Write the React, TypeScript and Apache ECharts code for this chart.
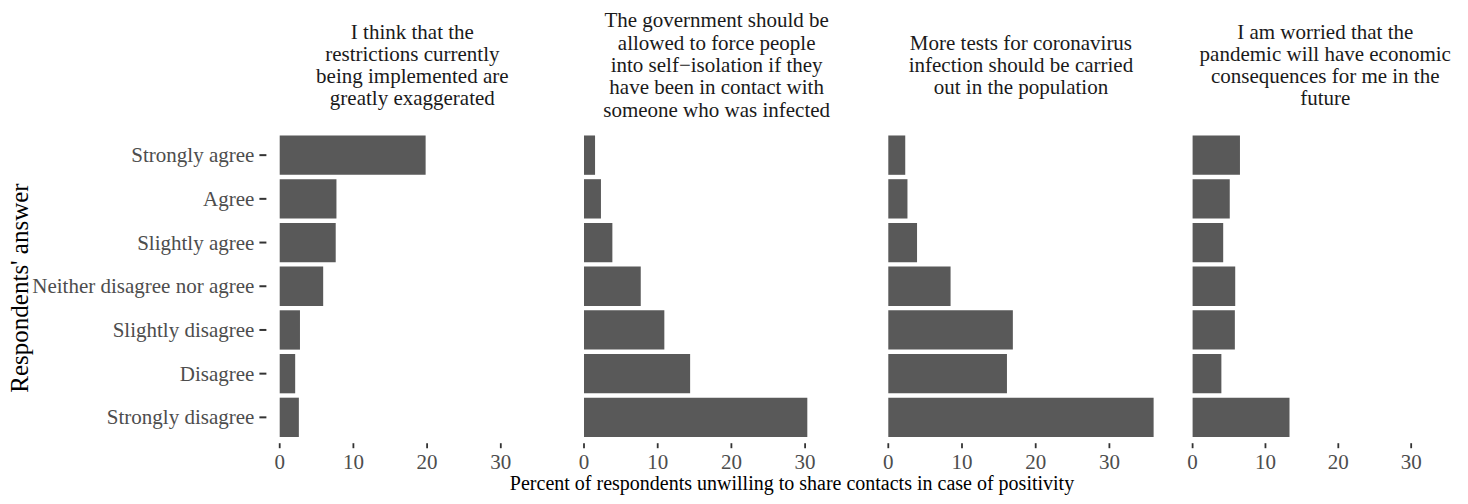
import React, { useEffect, useRef } from "react";
import * as echarts from "echarts";

const categories = [
  "Strongly agree",
  "Agree",
  "Slightly agree",
  "Neither disagree nor agree",
  "Slightly disagree",
  "Disagree",
  "Strongly disagree",
];

const panelTitles = [
  "I think that the\nrestrictions currently\nbeing implemented are\ngreatly exaggerated",
  "The government should be\nallowed to force people\ninto self\u2212isolation if they\nhave been in contact with\nsomeone who was infected",
  "More tests for coronavirus\ninfection should be carried\nout in the population",
  "I am worried that the\npandemic will have economic\nconsequences for me in the\nfuture",
];

const restrictionsExaggerated = [19.8, 7.7, 7.6, 5.9, 2.75, 2.1, 2.6];
const forceSelfIsolation = [1.5, 2.3, 3.85, 7.7, 10.9, 14.4, 30.3];
const moreTests = [2.3, 2.6, 3.9, 8.45, 16.9, 16.1, 36.0];
const economicWorry = [6.5, 5.1, 4.2, 5.85, 5.8, 3.95, 13.3];

const panelValues = [restrictionsExaggerated, forceSelfIsolation, moreTests, economicWorry];
const xTicks = [0, 10, 20, 30];
const xTitle = "Percent of respondents unwilling to share contacts in case of positivity";
const yTitle = "Respondents' answer";

const FONT = '"Liberation Serif", "DejaVu Serif", serif';
const TICK = "#333333";
const LABEL = "#4d4d4d";

export default function App() {
  const ref = useRef<HTMLDivElement>(null);
  useEffect(() => {
    document.body.style.margin = "0";
    if (!ref.current) return;
    const chart = echarts.init(ref.current, null, { renderer: "svg" });

    const zero0 = 279.7;
    const spacing = 304.3;
    const xMax = 37.8;
    const pxPerUnit = 7.37;
    const gridW = xMax * pxPerUnit;
    const gridTop = 133.3;
    const gridH = 305.9;
    const yOffset = 13.3;

    const grids: any[] = [];
    const xAxes: any[] = [];
    const yAxes: any[] = [];
    const series: any[] = [];
    const graphics: any[] = [];

    panelValues.forEach((vals, i) => {
      const left = zero0 + i * spacing;
      grids.push({ left, top: gridTop, width: gridW, height: gridH });
      xAxes.push({
        gridIndex: i,
        type: "value",
        position: "bottom",
        min: 0,
        max: xMax,
        interval: 10,
        offset: 0,
        axisLine: { show: false },
        splitLine: { show: false },
        axisTick: { show: false },
        axisLabel: {
          customValues: xTicks,
          margin: 12,
          color: LABEL,
          fontSize: 21,
          fontFamily: FONT,
          lineHeight: 21,
        },
      });
      yAxes.push({
        gridIndex: i,
        type: "category",
        data: categories,
        inverse: true,
        show: i === 0,
        offset: yOffset,
        axisLine: { show: false },
        splitLine: { show: false },
        axisTick: { show: false },
        axisLabel: {
          interval: 0,
          margin: 0,
          formatter: (v: string) => `{l|${v}}{t|}`,
          rich: {
            l: {
              color: LABEL,
              fontSize: 21,
              fontFamily: FONT,
              padding: [0, 5, 0, 0],
            },
            t: { width: 7, height: 2, backgroundColor: TICK },
          },
        },
      });
      series.push({
        type: "bar",
        xAxisIndex: i,
        yAxisIndex: i,
        data: vals,
        barWidth: "90%",
        itemStyle: { color: "#595959" },
      });
      // x-axis tick marks, positioned by the axis scale below the panel
      series.push({
        type: "custom",
        xAxisIndex: i,
        yAxisIndex: i,
        silent: true,
        clip: false,
        data: xTicks.map((v) => [v, 0]),
        encode: { x: 0, y: 1 },
        renderItem: (params: any, api: any) => {
          const x = api.coord([api.value(0), 0])[0];
          const cs = params.coordSys;
          const y0 = cs.y + cs.height + 4;
          return {
            type: "line",
            shape: { x1: x, y1: y0, x2: x, y2: y0 + 5 },
            style: { stroke: TICK, lineWidth: 1.8 },
          };
        },
      });
      graphics.push({
        type: "text",
        x: left - yOffset + (gridW + yOffset) / 2,
        y: 65,
        style: {
          text: panelTitles[i],
          font: `21px ${FONT}`,
          textAlign: "center",
          textVerticalAlign: "middle",
          align: "center",
          verticalAlign: "middle",
          lineHeight: 22.3,
          fill: "#1a1a1a",
        },
      });
    });

    graphics.push({
      type: "text",
      x: 792,
      y: 483,
      style: {
        text: xTitle,
        font: `20px ${FONT}`,
        textAlign: "center",
        textVerticalAlign: "middle",
        align: "center",
        verticalAlign: "middle",
        fill: "#000000",
      },
    });
    graphics.push({
      type: "text",
      x: 19,
      y: 288,
      rotation: Math.PI / 2,
      style: {
        text: yTitle,
        font: `25px ${FONT}`,
        textAlign: "center",
        textVerticalAlign: "middle",
        align: "center",
        verticalAlign: "middle",
        fill: "#000000",
      },
    });

    chart.setOption({
      animation: false,
      backgroundColor: "#ffffff",
      grid: grids,
      xAxis: xAxes,
      yAxis: yAxes,
      series,
      graphic: graphics,
    });
    return () => chart.dispose();
  }, []);
  return <div ref={ref} style={{ width: 1468, height: 504 }} />;
}
